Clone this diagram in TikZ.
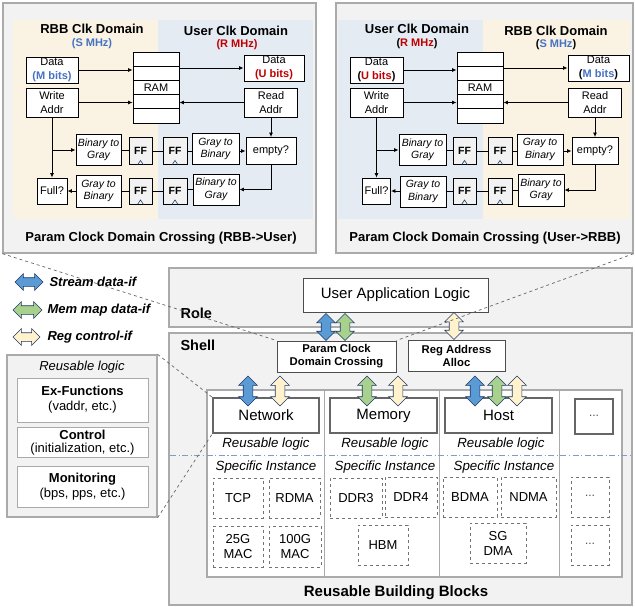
\documentclass[tikz,border=0pt]{standalone}
\usepackage{fontspec}
\setmainfont{Liberation Sans}
\usetikzlibrary{arrows.meta,shapes.arrows}

\definecolor{panelgray}{RGB}{242,242,242}
\definecolor{edgegray}{RGB}{170,170,170}
\definecolor{rbbbeige}{RGB}{250,243,228}
\definecolor{userblue}{RGB}{228,235,243}
\definecolor{mhzblue}{RGB}{68,114,196}
\definecolor{mhzred}{RGB}{192,0,0}
\definecolor{streamblue}{RGB}{91,155,213}
\definecolor{memgreen}{RGB}{169,209,142}
\definecolor{regyellow}{RGB}{255,242,204}
\definecolor{arrownavy}{RGB}{32,56,100}
\definecolor{sepblue}{RGB}{130,155,200}

\begin{document}
\begin{tikzpicture}[x=1pt, y=-1pt,
        wh/.style 2 args={minimum width=#1, minimum height=#2},
        panel/.style={draw=edgegray, line width=1.3pt, fill=panelgray, inner sep=0pt},
        logicbox/.style={draw, line width=0.9pt, fill=white, inner sep=0pt, align=center,
            font=\fontsize{11}{13.5}\selectfont},
        convbox/.style={logicbox, font=\fontsize{10.5}{12.5}\selectfont\itshape},
        ffbox/.style={logicbox, fill=panelgray, font=\fontsize{10.5}{12}\selectfont\bfseries},
        ramrow/.style={logicbox, wh={46pt}{14.2pt}},
        sig/.style={line width=0.8pt, -{Latex[length=4.5pt,width=4pt]}},
        wire/.style={line width=0.8pt},
        domtitle/.style={font=\fontsize{13}{15}\selectfont\bfseries},
        mhz/.style={font=\fontsize{11}{13}\selectfont\bfseries},
        paneltitle/.style={font=\fontsize{13}{15}\selectfont\bfseries},
        ifarrow/.style={double arrow, draw=arrownavy, line width=0.6pt, inner xsep=0pt,
            inner ysep=4.5pt, minimum width=18pt, minimum height=#1, double arrow head extend=4.5pt},
        legendarrow/.style={ifarrow=#1, inner ysep=4pt, minimum width=16pt, double arrow head extend=4pt},
        legendtext/.style={anchor=west, font=\fontsize{13}{15}\selectfont\bfseries\itshape},
        layertitle/.style={anchor=west, font=\fontsize{14.5}{16}\selectfont\bfseries},
        appbox/.style={draw=black!70, line width=1pt, fill=white, inner sep=0pt, align=center,
            font=\fontsize{15}{17}\selectfont},
        shellbox/.style={appbox, font=\fontsize{11.3}{13}\selectfont\bfseries},
        blockbox/.style={appbox, draw=black!60, line width=1.2pt},
        italabel/.style={font=\fontsize{13.3}{15}\selectfont\itshape},
        instbox/.style={draw=black!55, dashed, line width=0.7pt, fill=white, inner sep=0pt,
            align=center, font=\fontsize{13}{15}\selectfont},
        funcbox/.style={draw=edgegray, line width=1pt, fill=white, inner sep=0pt, align=center,
            font=\fontsize{13}{15}\selectfont},
        zoomline/.style={draw=black!60, dashed, line width=0.7pt}
    ]
    \useasboundingbox (0,0) rectangle (635,606);

    \node[panel, wh={313pt}{250pt}] (lpanel) at (159.5,128) {};
    \fill[rbbbeige] (13,20) rectangle (158,219);
    \fill[userblue] (158,20) rectangle (313,219);
    \node[domtitle] (lrbb) at (92,29) {RBB Clk Domain};
    \node[mhz, text=mhzblue] (lsmhz) at (92,44) {(S MHz)};
    \node[domtitle] (luser) at (236,31) {User Clk Domain};
    \node[mhz, text=mhzred] (lrmhz) at (237,45) {(R MHz)};

    \node[logicbox, wh={52pt}{26pt}] (ldata) at (52,70) {Data\\\textcolor{mhzblue}{\textbf{(M bits)}}};
    \node[logicbox, wh={52pt}{29pt}] (lwaddr) at (52,102.5) {Write\\Addr};
    \foreach \i/\t in {1/,2/,3/RAM,4/,5/}
        \node[ramrow] (lram\i) at (156,{44.9+14.2*\i}) {\t};
    \node[logicbox, wh={60pt}{26pt}] (ludata) at (274,68) {Data\\\textcolor{mhzred}{\textbf{(U bits)}}};
    \node[logicbox, wh={53pt}{29pt}] (lraddr) at (271,102.5) {Read\\Addr};

    \node[convbox, wh={45pt}{31pt}] (lb2g) at (98.5,150) {Binary to\\Gray};
    \node[ffbox, wh={23pt}{27pt}] (lff1) at (140.5,151) {FF};
    \node[ffbox, wh={24pt}{27pt}] (lff2) at (175,151) {FF};
    \node[convbox, wh={47pt}{31pt}] (lg2b) at (215.5,149) {Gray to\\Binary};
    \node[logicbox, wh={50pt}{27pt}] (lempty) at (271,151) {empty?};
    \node[logicbox, wh={30pt}{26pt}] (lfull) at (52,191) {Full?};
    \node[convbox, wh={45pt}{32pt}] (lg2b2) at (98.5,191) {Gray to\\Binary};
    \node[ffbox, wh={23pt}{26pt}] (lff3) at (140.5,191) {FF};
    \node[ffbox, wh={24pt}{26pt}] (lff4) at (175,191) {FF};
    \node[convbox, wh={46pt}{31pt}] (lb2g2) at (216,189.5) {Binary to\\Gray};

    \draw[sig] (ldata.east) -- (ldata.east -| lram2.west);
    \draw[sig] (lwaddr.east) -- (lwaddr.east -| lram4.west);
    \draw[sig] (lram2.east |- ludata.west) -- (ludata.west);
    \draw[sig] (lraddr.west) -- (lraddr.west -| lram4.east);
    \draw[sig] (lwaddr.south) -- (lfull.north);
    \draw[sig] (lwaddr.south |- lb2g.west) -- (lb2g.west);
    \draw[wire] (lb2g.east) -- (lb2g.east -| lff1.west);
    \draw[wire] (lff1.east) -- (lff2.west);
    \draw[wire] (lff2.east) -- (lff2.east -| lg2b.west);
    \draw[sig] (lg2b.east |- lempty.west) -- (lempty.west);
    \draw[sig] (lraddr.south) -- (lempty.north);
    \draw[sig] (lempty.south) |- (lb2g2.east);
    \draw[wire] (lb2g2.west) -- (lb2g2.west -| lff4.east);
    \draw[wire] (lff4.west) -- (lff3.east);
    \draw[wire] (lff3.west) -- (lff3.west -| lg2b2.east);
    \draw[sig] (lg2b2.west |- lfull.east) -- (lfull.east);
    \node[paneltitle] (ltitle) at (161,238) {Param Clock Domain Crossing (RBB->User)};

    \node[panel, wh={297pt}{250pt}] (rpanel) at (484.5,128) {};
    \fill[userblue] (338,20) rectangle (483,219);
    \fill[rbbbeige] (483,20) rectangle (630,219);
    \node[domtitle] (ruser) at (417,29) {User Clk Domain};
    \node[mhz] (rrmhz) at (417,44) {(\textcolor{mhzred}{R MHz})};
    \node[domtitle] (rrbb) at (556,31) {RBB Clk Domain};
    \node[mhz] (rsmhz) at (556,45) {(\textcolor{mhzblue}{S MHz})};

    \node[logicbox, wh={53pt}{26pt}] (rudata) at (376.5,70) {Data\\\textbf{(\textcolor{mhzred}{U bits})}};
    \node[logicbox, wh={53pt}{29pt}] (rwaddr) at (376.5,102.5) {Write\\Addr};
    \foreach \i/\t in {1/,2/,3/RAM,4/,5/}
        \node[ramrow] (rram\i) at (480,{44.9+14.2*\i}) {\t};
    \node[logicbox, wh={61pt}{26pt}] (rmdata) at (598.5,68) {Data\\\textbf{(\textcolor{mhzblue}{M bits})}};
    \node[logicbox, wh={53pt}{29pt}] (rraddr) at (595,102.5) {Read\\Addr};

    \node[convbox, wh={47pt}{31pt}] (rb2g) at (422.5,150) {Binary to\\Gray};
    \node[ffbox, wh={23pt}{27pt}] (rff1) at (464.5,151) {FF};
    \node[ffbox, wh={24pt}{27pt}] (rff2) at (500,151) {FF};
    \node[convbox, wh={46pt}{31pt}] (rg2b) at (540,149.5) {Gray to\\Binary};
    \node[logicbox, wh={46pt}{27pt}] (rempty) at (595,151) {empty?};
    \node[logicbox, wh={28pt}{26pt}] (rfull) at (376.5,191) {Full?};
    \node[convbox, wh={46pt}{31pt}] (rg2b2) at (423,191.5) {Gray to\\Binary};
    \node[ffbox, wh={23pt}{26pt}] (rff3) at (464.5,191) {FF};
    \node[ffbox, wh={24pt}{26pt}] (rff4) at (500,191) {FF};
    \node[convbox, wh={46pt}{32pt}] (rb2g2) at (541,190) {Binary to\\Gray};

    \draw[sig] (rudata.east) -- (rudata.east -| rram2.west);
    \draw[sig] (rwaddr.east) -- (rwaddr.east -| rram4.west);
    \draw[sig] (rram2.east |- rmdata.west) -- (rmdata.west);
    \draw[sig] (rraddr.west) -- (rraddr.west -| rram4.east);
    \draw[sig] (rwaddr.south) -- (rfull.north);
    \draw[sig] (rwaddr.south |- rb2g.west) -- (rb2g.west);
    \draw[wire] (rb2g.east) -- (rb2g.east -| rff1.west);
    \draw[wire] (rff1.east) -- (rff2.west);
    \draw[wire] (rff2.east) -- (rff2.east -| rg2b.west);
    \draw[sig] (rg2b.east |- rempty.west) -- (rempty.west);
    \draw[sig] (rraddr.south) -- (rempty.north);
    \draw[sig] (rempty.south) |- (rb2g2.east);
    \draw[wire] (rb2g2.west) -- (rb2g2.west -| rff4.east);
    \draw[wire] (rff4.west) -- (rff3.east);
    \draw[wire] (rff3.west) -- (rff3.west -| rg2b2.east);
    \draw[sig] (rg2b2.west |- rfull.east) -- (rfull.east);
    \node[paneltitle] (rtitle) at (485,238) {Param Clock Domain Crossing (User->RBB)};

    \foreach \f in {lff1,lff2,lff3,lff4,rff1,rff2,rff3,rff4}
        \draw[arrownavy, line width=0.6pt] ([xshift=-3pt]\f.south) -- ([yshift=4.5pt]\f.south) -- ([xshift=3pt]\f.south);

    \node[legendarrow=28pt, fill=streamblue] (lgstream) at (29,282) {};
    \node[legendtext] (lgstreamtxt) at (46,282) {Stream data-if};
    \node[legendarrow=29pt, fill=memgreen] (lgmem) at (27.5,310) {};
    \node[legendtext] (lgmemtxt) at (44,310) {Mem map data-if};
    \node[legendarrow=27pt, fill=regyellow] (lgreg) at (26.5,337) {};
    \node[legendtext] (lgregtxt) at (44,337) {Reg control-if};

    \node[panel, wh={463pt}{59pt}] (role) at (400.5,297.5) {};
    \node[layertitle] (roletxt) at (177,313) {Role};
    \node[panel, wh={463pt}{272pt}] (shell) at (400.5,469) {};
    \node[layertitle] (shelltxt) at (177,345) {Shell};

    \node[appbox, wh={185pt}{34pt}] (ual) at (395.5,295) {User Application Logic};
    \node[shellbox, wh={119pt}{31pt}] (pcdc) at (336.5,356.5) {Param Clock\\Domain Crossing};
    \node[shellbox, wh={97pt}{31pt}] (regalloc) at (456.5,355.5) {Reg Address\\Alloc};
    \node[ifarrow=27pt, fill=streamblue, rotate=90] (ualstream) at (326,327) {};
    \node[ifarrow=27pt, fill=memgreen, rotate=90] (ualmem) at (345,327) {};
    \node[ifarrow=27pt, fill=regyellow, rotate=90] (ualreg) at (454,326) {};

    \node[draw=edgegray, line width=1.2pt, fill=white, wh={415pt}{187pt}] (rbb) at (414.5,483.5) {};
    \foreach \x in {324,439,559}
        \draw[edgegray, line width=1pt] (\x,390) -- (\x,577);
    \draw[sepblue, line width=0.9pt, dash pattern=on 6pt off 2.5pt on 1.2pt off 2.5pt] (170,455) -- (632,455);

    \node[blockbox, wh={106pt}{35pt}] (network) at (266,415.5) {Network};
    \node[blockbox, wh={107pt}{35pt}] (memory) at (383.5,415.5) {Memory};
    \node[blockbox, wh={107pt}{35pt}] (host) at (498.5,415.5) {Host};
    \node[blockbox, wh={38pt}{35pt}, font=\fontsize{10}{12}\selectfont] (moreblk) at (594,416.5) {···};

    \node[italabel] (netrl) at (266,444) {Reusable logic};
    \node[italabel] (memrl) at (385,444) {Reusable logic};
    \node[italabel] (hostrl) at (501,444) {Reusable logic};
    \node[italabel] (netsi) at (266,467) {Specific Instance};
    \node[italabel] (memsi) at (385,467) {Specific Instance};
    \node[italabel] (hostsi) at (504,467) {Specific Instance};

    \node[instbox, wh={50pt}{40pt}] (tcp) at (238,498) {TCP};
    \node[instbox, wh={51pt}{40pt}] (rdma) at (294.5,498) {RDMA};
    \node[instbox, wh={50pt}{41pt}] (mac25) at (238,546.5) {25G\\MAC};
    \node[instbox, wh={52pt}{41pt}] (mac100) at (295,546.5) {100G\\MAC};
    \node[instbox, wh={52pt}{40pt}] (ddr3) at (356,498) {DDR3};
    \node[instbox, wh={52pt}{40pt}] (ddr4) at (411,497) {DDR4};
    \node[instbox, wh={50pt}{40pt}] (hbm) at (383,545) {HBM};
    \node[instbox, wh={54pt}{40pt}] (bdma) at (470,497) {BDMA};
    \node[instbox, wh={55pt}{40pt}] (ndma) at (528.5,497) {NDMA};
    \node[instbox, wh={56pt}{40pt}] (sgdma) at (498,543) {SG\\DMA};
    \node[instbox, wh={38pt}{40pt}, font=\fontsize{10}{12}\selectfont] (moreinst1) at (590,497) {···};
    \node[instbox, wh={38pt}{40pt}, font=\fontsize{10}{12}\selectfont] (moreinst2) at (590,545) {···};

    \node[ifarrow=30pt, fill=streamblue, rotate=90] (netstream) at (248,391) {};
    \node[ifarrow=30pt, fill=regyellow, rotate=90] (netreg) at (280,391) {};
    \node[ifarrow=30pt, fill=memgreen, rotate=90] (memmem) at (367,391) {};
    \node[ifarrow=30pt, fill=regyellow, rotate=90] (memreg) at (398,391) {};
    \node[ifarrow=30pt, fill=streamblue, rotate=90] (hoststream) at (475,391) {};
    \node[ifarrow=30pt, fill=memgreen, rotate=90] (hostmem) at (497,391) {};
    \node[ifarrow=30pt, fill=regyellow, rotate=90] (hostreg) at (517,391) {};
    \node[font=\fontsize{15}{17}\selectfont\bfseries] (rbbtitle) at (396,593) {Reusable Building Blocks};

    \node[panel, wh={150pt}{162pt}] (reuse) at (82,436) {};
    \node[italabel, font=\fontsize{13}{15}\selectfont\itshape] (reusetxt) at (82,367) {Reusable logic};
    \node[funcbox, wh={131pt}{44pt}] (exfunc) at (82.5,400) {\textbf{Ex-Functions}\\(vaddr, etc.)};
    \node[funcbox, wh={131pt}{30pt}, font=\fontsize{13}{13.5}\selectfont] (ctrl) at (82.5,442.5) {\textbf{Control}\\(initialization, etc.)};
    \node[funcbox, wh={131pt}{41pt}] (monitor) at (82.5,486.5) {\textbf{Monitoring}\\(bps, pps, etc.)};

    \draw[zoomline] (lpanel.south west) -- (pcdc.north west);
    \draw[zoomline] (rpanel.south east) -- (pcdc.north east);
    \draw[zoomline] (reuse.north east) -- (network.north west);
    \draw[zoomline] (reuse.south east) -- (network.south west);
\end{tikzpicture}
\end{document}
